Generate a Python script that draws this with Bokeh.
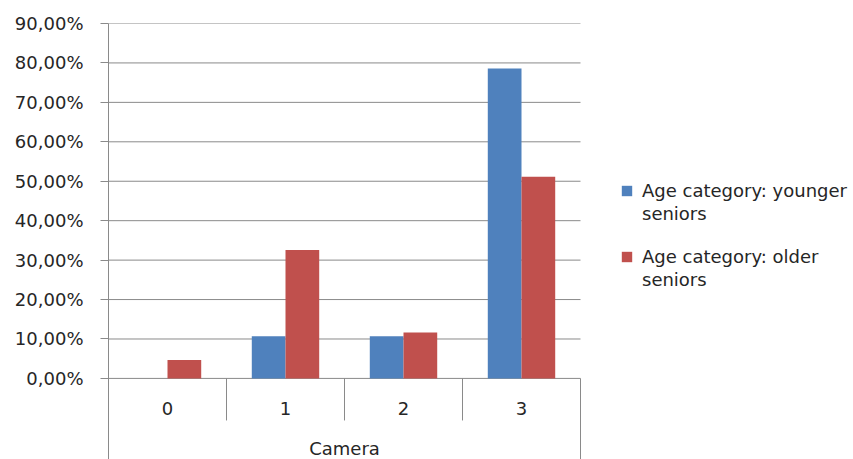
from bokeh.plotting import figure
from bokeh.models import (Range1d, FixedTicker, Legend, LegendItem,
                          ColumnDataSource)
from bokeh.core.properties import value
from bokeh.embed import file_html
from bokeh.resources import INLINE

# ---- data ----
categories = ["0", "1", "2", "3"]
younger = [0.0, 10.71, 10.71, 78.57]
older = [4.65, 32.56, 11.63, 51.16]
y_ticks = [0, 10, 20, 30, 40, 50, 60, 70, 80, 90]
y_tick_labels = ["0,00%", "10,00%", "20,00%", "30,00%", "40,00%",
                 "50,00%", "60,00%", "70,00%", "80,00%", "90,00%"]
group_label = "Camera"
series_lines = [["Age category: younger", "seniors"],
                ["Age category: older", "seniors"]]

# ---- style ----
FONT = "DejaVu Sans"
FS = "18px"
BLUE = "#4F81BD"
RED = "#C0504D"
GRID = "#8a8a8a"
TEXT = "#262626"

n = len(categories)
cat_px = 118.0
frame_w = 853 - 108
y_bottom = -20.56

idx = [i + 0.5 for i in range(n)]
bw = 0.2857
src = ColumnDataSource(dict(
    cat=categories,
    xy=[c - bw / 2 for c in idx],
    xo=[c + bw / 2 for c in idx],
    younger=younger, older=older))

p = figure(x_range=Range1d(0, frame_w / cat_px), y_range=Range1d(y_bottom, 90),
           frame_width=frame_w, frame_height=436, output_backend="svg",
           toolbar_location=None, min_border_top=23, min_border_bottom=0,
           min_border_left=108, min_border_right=0)
p.outline_line_color = None
p.xaxis.visible = False
p.xgrid.visible = False
p.ygrid.visible = False

# horizontal gridlines, limited to the category area
p.segment(x0=[0] * len(y_ticks), y0=y_ticks, x1=[n] * len(y_ticks), y1=y_ticks,
          line_color=GRID, line_width=1)

r1 = p.vbar(x="xy", top="younger", width=bw, source=src,
            fill_color=BLUE, line_color=None)
r2 = p.vbar(x="xo", top="older", width=bw, source=src,
            fill_color=RED, line_color=None)
blank = p.vbar(x=[], top=[], width=bw, fill_alpha=0, line_alpha=0)

# y axis
ya = p.yaxis[0]
ya.ticker = FixedTicker(ticks=y_ticks)
ya.major_label_overrides = {t: l for t, l in zip(y_ticks, y_tick_labels)}
ya.major_tick_out = 8
ya.major_tick_in = 0
ya.minor_tick_line_color = None
ya.axis_line_color = GRID
ya.major_tick_line_color = GRID
ya.major_label_text_font = FONT
ya.major_label_text_font_size = FS
ya.major_label_text_color = TEXT
ya.major_label_standoff = 17

# category separators and right edge
seps = list(range(1, n + 1))
bottoms = [-10.66] * (n - 1) + [y_bottom]
p.segment(x0=seps, y0=[0] * n, x1=seps, y1=bottoms,
          line_color=GRID, line_width=1)

# category labels
p.text(x=idx, y=[-7.6] * n, text=categories, text_align="center",
       text_baseline="middle", text_font=value(FONT), text_font_size=FS,
       text_color=TEXT)
p.text(x=[n / 2], y=[-17.7], text=[group_label], text_align="center",
       text_baseline="middle", text_font=value(FONT), text_font_size=FS,
       text_color=TEXT)

# legends: one per series, two lines each
for lines, rend, loc in [(series_lines[0], r1, (512, 235)),
                         (series_lines[1], r2, (512, 169))]:
    lg = Legend(items=[LegendItem(label=lines[0], renderers=[rend]),
                       LegendItem(label=lines[1], renderers=[blank])],
                location=loc, margin=0, padding=0, spacing=2,
                glyph_width=13, glyph_height=13, label_standoff=9,
                border_line_alpha=0, background_fill_alpha=0,
                label_text_font=FONT, label_text_font_size=FS,
                label_text_color=TEXT)
    p.add_layout(lg)

open("out.html", "w").write(file_html(p, INLINE))
